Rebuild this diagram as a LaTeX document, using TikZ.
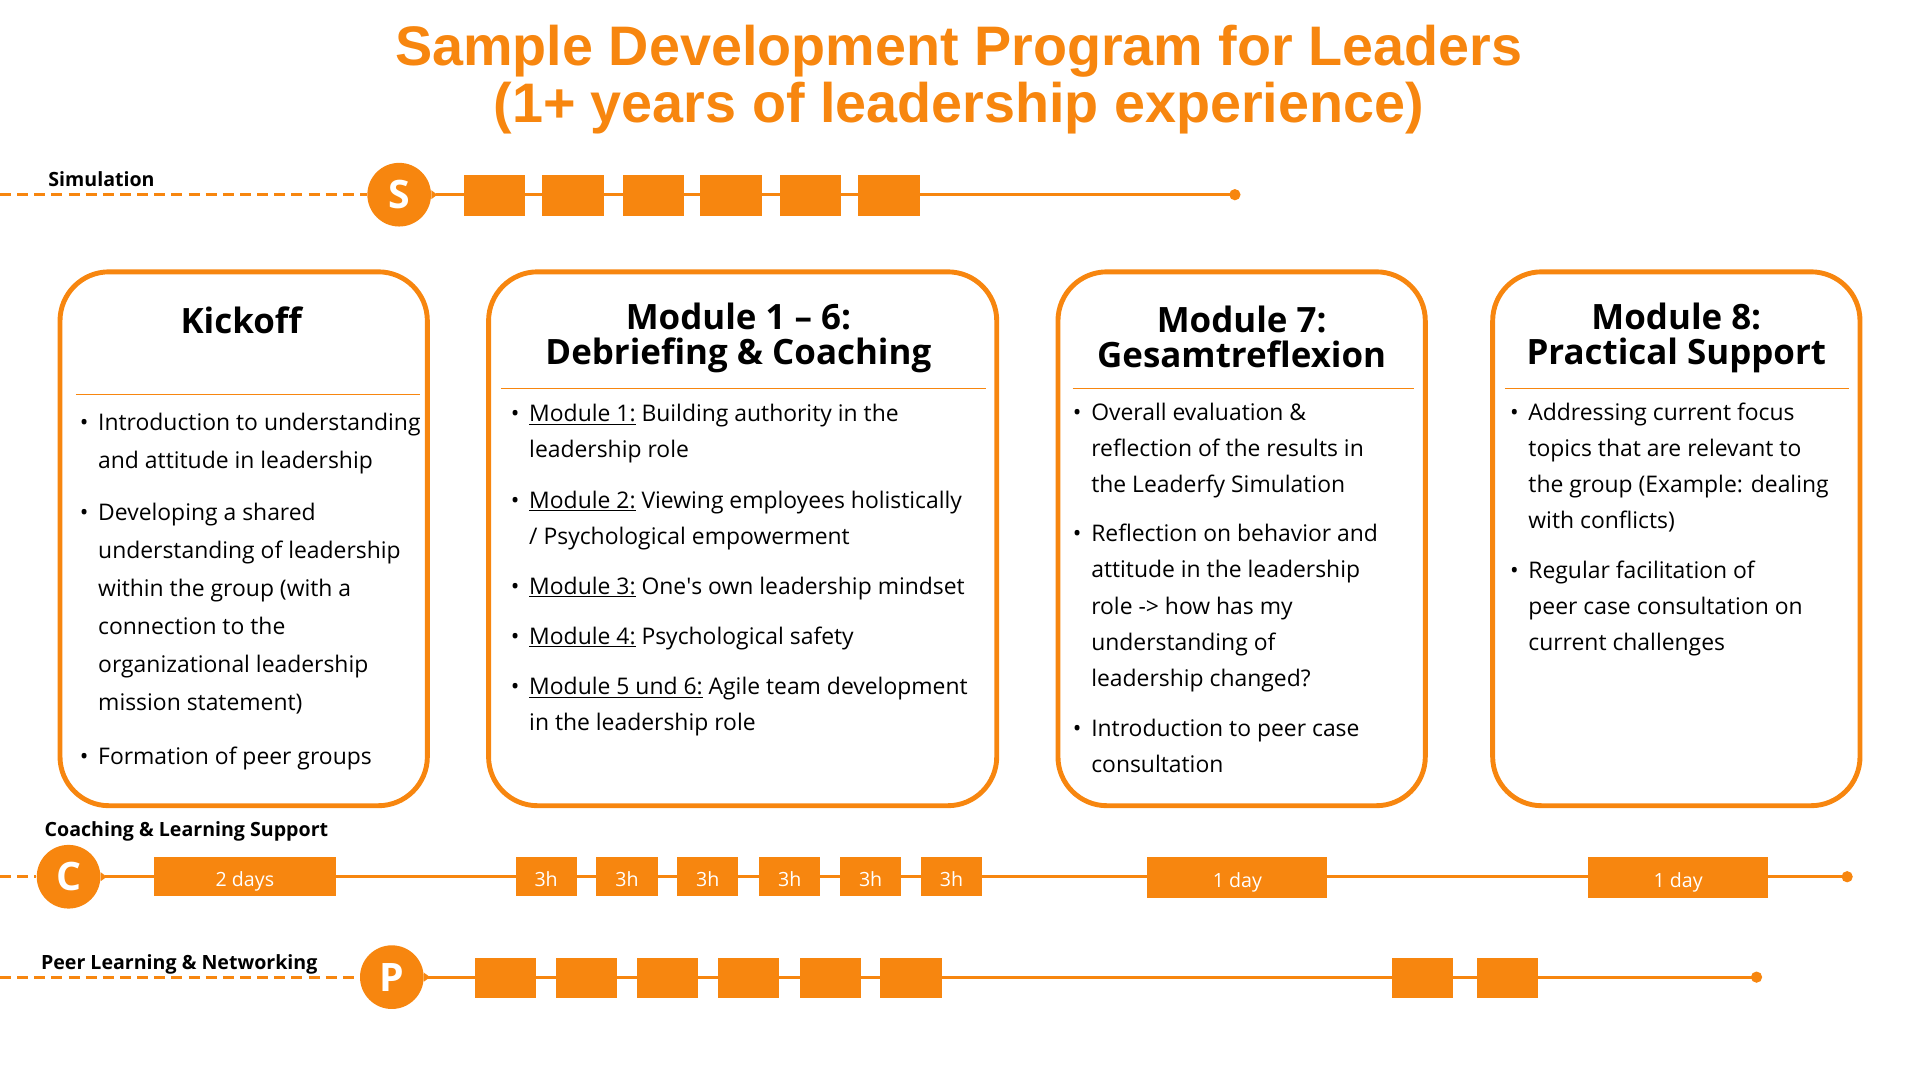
\documentclass[tikz,border=0pt]{standalone}
\usepackage{fontspec}
\setmainfont{Open Sans}
\newfontfamily\titlefont{Liberation Sans}
\usetikzlibrary{arrows.meta}
\definecolor{org}{HTML}{F7860F}
\tikzset{
  tl/.style={draw=org, line width=2.5pt},
  dl/.style={draw=org, line width=2.5pt, dash pattern=on 9pt off 5pt},
  circ/.style={circle, fill=org, minimum size=52pt, inner sep=0pt, text=white, font=\bfseries\fontsize{32}{32}\selectfont},
  sq/.style={fill=org, inner sep=0pt, minimum width=50pt, minimum height=33pt},
  tbox/.style={fill=org, inner sep=0pt, minimum height=32pt, text height=16pt, text depth=0pt, text=white, font=\fontsize{16}{16}\selectfont},
  panel/.style={draw=org, line width=4pt, rounded corners=40pt},
  sepl/.style={draw=org, line width=1pt},
  head/.style={align=center, font=\bfseries\fontsize{28.5}{29}\selectfont},
  lab/.style={anchor=base west, font=\bfseries\fontsize{16}{16}\selectfont},
  items/.style={anchor=north west, align=left, inner sep=0pt, font=\fontsize{18.7}{29.5}\selectfont},
}
\newcommand{\itm}[1]{\makebox[0pt][r]{\textbullet\hspace{8pt}}#1}
\begin{document}
\begin{tikzpicture}[x=1pt,y=-1pt]
\useasboundingbox (0,0) rectangle (1568,882);
% title
\node[text=org, align=center, font=\titlefont\bfseries\fontsize{45.5}{47}\selectfont] (title) at (783,65) {Sample Development Program for Leaders\\(1+ years of leadership experience)};
% simulation
\node[lab] (simlab) at (36,152) {Simulation};
\coordinate (s0) at (0,159);
\node[circ] (S) at (326,159) {S};
\coordinate (s1) at (1013,159);
\draw[dl] (s0) -- (S.west);
\draw[tl, {Triangle[reversed,length=5pt,width=7pt]}-{Circle[length=9pt]}] (S.east) -- (s1);
\foreach \x [count=\i] in {404,468,534,597,662,726}{\node[sq] (sa\i) at (\x,159.5) {};}
% panels
\draw[panel] (49,222) rectangle (349,658);
\draw[panel] (399,222) rectangle (814,658);
\draw[panel] (864,222) rectangle (1164,658);
\draw[panel] (1219,222) rectangle (1519,658);
\node[head] (h1) at (197,262) {Kickoff};
\node[head] (h2) at (603,276) {Module 1 -- 6:\\Debriefing \& Coaching};
\node[head] (h3) at (1014,275) {Module 7:\\Gesamtreflexion};
\node[head] (h4) at (1369,276) {Module 8:\\Practical Support};
\draw[sepl] (62,322) -- (343,322);
\draw[sepl] (409,317) -- (805,317);
\draw[sepl] (876,317) -- (1155,317);
\draw[sepl] (1229,317) -- (1510,317);
% items
\node[items, font=\fontsize{18.7}{31}\selectfont] (k1) at (80,337) {\itm{Introduction to understanding}\\and attitude in leadership};
\node[items, font=\fontsize{18.7}{31}\selectfont] (k2) at (80,411) {\itm{Developing a shared}\\understanding of leadership\\within the group (with a\\connection to the\\organizational leadership\\mission statement)};
\node[items, font=\fontsize{18.7}{31}\selectfont] (k3) at (80,610) {\itm{Formation of peer groups}};
\node[items] (m1) at (432,330) {\itm{\underline{Module 1:} Building authority in the}\\leadership role};
\node[items] (m2) at (432,401) {\itm{\underline{Module 2:} Viewing employees holistically}\\/ Psychological empowerment};
\node[items] (m3) at (432,471) {\itm{\underline{Module 3:} One\textquotesingle s own leadership mindset}};
\node[items] (m4) at (432,512) {\itm{\underline{Module 4:} Psychological safety}};
\node[items] (m5) at (432,553) {\itm{\underline{Module 5 und 6:} Agile team development}\\in the leadership role};
\node[items] (g1) at (891,329) {\itm{Overall evaluation \&}\\reflection of the results in\\the Leaderfy Simulation};
\node[items] (g2) at (891,428) {\itm{Reflection on behavior and}\\attitude in the leadership\\role -> how has my\\understanding of\\leadership changed?};
\node[items] (g3) at (891,587) {\itm{Introduction to peer case}\\consultation};
\node[items] (p1) at (1248,329) {\itm{Addressing current focus}\\topics that are relevant to\\the group (Example: dealing\\with conflicts)};
\node[items] (p2) at (1248,458) {\itm{Regular facilitation of}\\peer case consultation on\\current challenges};
% coaching
\node[lab] (clab) at (33,683) {Coaching \& Learning Support};
\coordinate (c0) at (0,716);
\node[circ] (C) at (56,716) {C};
\coordinate (c1) at (1513,716);
\draw[dl] (c0) -- (C.west);
\draw[tl, {Triangle[reversed,length=5pt,width=7pt]}-{Circle[length=9pt]}] (C.east) -- (c1);
\node[tbox, minimum width=148pt] (cb0) at (200,716) {2 days};
\foreach \x [count=\i] in {446,512,578,645,711,777}{\node[tbox, minimum width=50pt] (cb\i) at (\x,716) {3h};}
\node[tbox, minimum width=147pt, minimum height=33pt] (cd1) at (1010.5,716.5) {1 day};
\node[tbox, minimum width=147pt, minimum height=33pt] (cd2) at (1370.5,716.5) {1 day};
% peer
\node[lab] (plab) at (30,792) {Peer Learning \& Networking};
\coordinate (p0) at (0,798);
\node[circ] (P) at (320,798) {P};
\coordinate (p1e) at (1439,798);
\draw[dl] (p0) -- (P.west);
\draw[tl, {Triangle[reversed,length=5pt,width=7pt]}-{Circle[length=9pt]}] (P.east) -- (p1e);
\foreach \x [count=\i] in {413,479,545,611,678,744,1162,1231}{\node[sq] (pa\i) at (\x,798.5) {};}
\end{tikzpicture}
\end{document}
